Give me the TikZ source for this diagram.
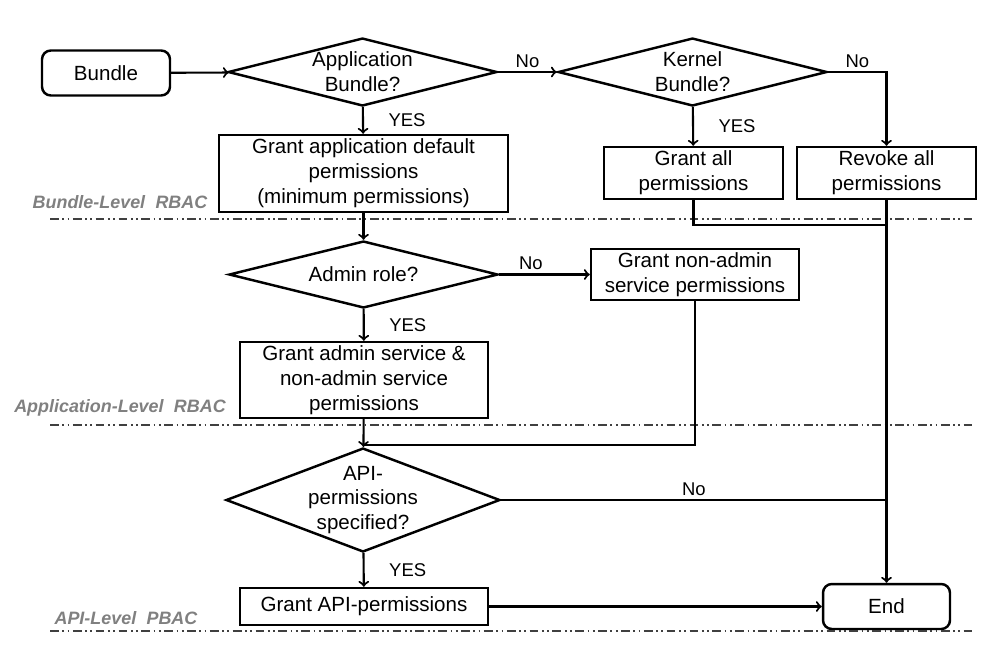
\documentclass[tikz,border=0pt]{standalone}
\usepackage{fontspec}
\setmainfont{Liberation Sans}
\usepackage{xcolor}
\usetikzlibrary{shapes,arrows}
\definecolor{levelgray}{RGB}{128,128,128}
\tikzstyle{block} = [rectangle, draw, line width=1.4pt, align=center, inner sep=0pt, font=\fontsize{11.7}{14.2}\selectfont]
\tikzstyle{terminal} = [block, rounded corners=5pt]
\tikzstyle{decision} = [diamond, draw, line width=1.4pt, align=center, inner sep=-2pt, font=\fontsize{11.7}{14.2}\selectfont]
\tikzstyle{arrow} = [line width=1.2pt,->,>=to]
\tikzstyle{line} = [line width=1.2pt]
\tikzstyle{answer} = [font=\fontsize{10.5}{12}\selectfont, inner sep=2pt]
\tikzstyle{yes} = [answer, right, xshift=0.42cm]
\tikzstyle{level} = [font=\fontsize{10.2}{12}\selectfont\bfseries\itshape, text=levelgray]
\tikzstyle{separator} = [line width=0.9pt, black!75, dash pattern=on 5pt off 2pt on 1pt off 2pt on 1pt off 2pt]

\begin{document}
\begin{tikzpicture}[x=0.02cm, y=-0.02cm]
    \useasboundingbox (0,0) rectangle (999,647);

    % bundle level
    \node[terminal, minimum width=2.56cm, minimum height=0.9cm] (bundle) at (106,73) {Bundle};
    \node[decision, minimum width=5.38cm, minimum height=1.36cm, aspect=4] (appq) at (362.5,72) {Application\\Bundle?};
    \node[decision, minimum width=5.38cm, minimum height=1.36cm, aspect=4] (kernelq) at (692.5,72) {Kernel\\Bundle?};
    \node[block, minimum width=5.78cm, minimum height=1.54cm] (appdefault) at (363.5,173.5) {Grant application default\\permissions\\(minimum permissions)};
    \node[block, minimum width=3.58cm, minimum height=1.04cm] (grantall) at (693.5,173) {Grant all\\permissions};
    \node[block, minimum width=3.58cm, minimum height=1.04cm] (revoke) at (886.5,173) {Revoke all\\permissions};

    % application level
    \node[decision, minimum width=5.38cm, minimum height=1.34cm, aspect=4] (adminq) at (363.5,274.5) {Admin role?};
    \node[block, minimum width=4.16cm, minimum height=1.02cm] (nonadmin) at (695,274.5) {Grant non-admin\\service permissions};
    \node[block, minimum width=4.96cm, minimum height=1.52cm] (admingrant) at (364,380) {Grant admin service \&\\non-admin service\\permissions};

    % api level
    \node[decision, minimum width=5.48cm, minimum height=2.08cm, aspect=2.63] (apiq) at (363,500) {API-\\permissions\\specified?};
    \node[block, minimum width=4.96cm, minimum height=0.74cm] (apigrant) at (364,606.5) {Grant API-permissions};
    \node[terminal, minimum width=2.54cm, minimum height=0.9cm] (endnode) at (886.5,606.5) {End};

    % merge points
    \coordinate (kmerge) at (886.5,225);
    \coordinate (nmerge) at (363,445);
    \coordinate (amerge) at (886.5,500);

    % level names
    \node[level] (bundlelevel) at (120,202) {Bundle-Level\hspace{0.3em} RBAC};
    \node[level] (applevel) at (120,408) {Application-Level\hspace{0.3em} RBAC};
    \node[level] (apilevel) at (126,618) {API-Level\hspace{0.3em} PBAC};
    \foreach \y in {219,425,631}
        \draw[separator] (50,\y) -- (975,\y);

    % connectors
    \draw[arrow] (bundle) -- (appq);
    \draw[arrow] (appq) -- node[answer, midway, above] {No} (kernelq);
    \draw[arrow] (appq) -- node[yes, midway] {YES} (appdefault);
    \draw[arrow] (kernelq) -- node[yes, midway] {YES} (grantall);
    \draw[arrow] (kernelq.east) -| node[answer, pos=0.25, above] {No} (revoke.north);
    \draw[line] (grantall.south) |- (kmerge);
    \draw[arrow] (revoke) -- (endnode);
    \draw[arrow] (appdefault) -- (adminq);
    \draw[arrow] (adminq) -- node[answer, pos=0.35, above] {No} (nonadmin);
    \draw[arrow] (adminq) -- node[yes, midway] {YES} (admingrant);
    \draw[line] (nonadmin.south) |- (nmerge);
    \draw[arrow] (admingrant) -- (apiq);
    \draw[line] (apiq.east) -- node[answer, midway, above] {No} (amerge);
    \draw[arrow] (apiq) -- node[yes, midway] {YES} (apigrant);
    \draw[arrow] (apigrant) -- (endnode);
\end{tikzpicture}
\end{document}
